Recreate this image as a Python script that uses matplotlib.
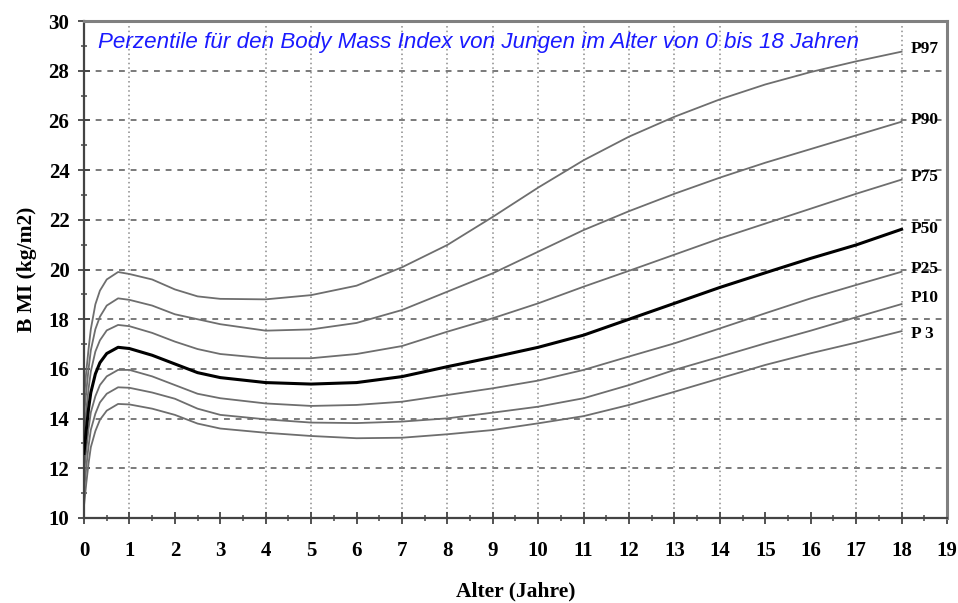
import matplotlib
matplotlib.use("Agg")
import matplotlib.pyplot as plt
from matplotlib.ticker import MultipleLocator

# Alter in Jahren und BMI-Perzentile (Jungen)
alter = [0, 0.05, 0.1, 0.15, 0.25, 0.35, 0.5, 0.75, 1, 1.5, 2, 2.5, 3, 4, 5,
         6, 7, 8, 9, 10, 11, 12, 13, 14, 15, 16, 17, 18]

p97 = [14.8, 15.9, 16.8, 17.6, 18.6, 19.15, 19.6, 19.9, 19.82, 19.6, 19.2,
       18.92, 18.82, 18.8, 18.97, 19.35, 20.09, 20.99, 22.12, 23.3, 24.4,
       25.35, 26.15, 26.85, 27.45, 27.95, 28.38, 28.77]
p90 = [14.1, 15.1, 16.0, 16.75, 17.6, 18.1, 18.55, 18.84, 18.78, 18.55, 18.2,
       18.0, 17.8, 17.54, 17.59, 17.85, 18.37, 19.11, 19.85, 20.72, 21.59,
       22.35, 23.05, 23.7, 24.3, 24.85, 25.4, 25.95]
p75 = [13.4, 14.35, 15.2, 15.9, 16.7, 17.15, 17.55, 17.77, 17.72, 17.45, 17.1,
       16.8, 16.6, 16.43, 16.43, 16.6, 16.92, 17.5, 18.04, 18.64, 19.31,
       19.95, 20.6, 21.25, 21.85, 22.45, 23.05, 23.62]
p50 = [12.6, 13.55, 14.4, 15.05, 15.8, 16.25, 16.62, 16.87, 16.82, 16.55, 16.2,
       15.85, 15.65, 15.45, 15.39, 15.45, 15.69, 16.09, 16.47, 16.87, 17.36,
       18.0, 18.64, 19.28, 19.87, 20.45, 20.99, 21.62]
p25 = [11.8, 12.75, 13.6, 14.25, 14.9, 15.35, 15.7, 15.96, 15.96, 15.7, 15.35,
       15.0, 14.82, 14.61, 14.51, 14.55, 14.68, 14.95, 15.22, 15.53, 15.96,
       16.5, 17.03, 17.63, 18.24, 18.84, 19.38, 19.91]
p10 = [11.1, 12.05, 12.9, 13.55, 14.2, 14.65, 15.0, 15.26, 15.24, 15.05, 14.8,
       14.4, 14.15, 13.97, 13.84, 13.82, 13.88, 14.01, 14.24, 14.48, 14.82,
       15.35, 15.96, 16.49, 17.03, 17.54, 18.08, 18.61]
p3 = [10.5, 11.4, 12.2, 12.85, 13.5, 13.95, 14.32, 14.59, 14.57, 14.4, 14.15,
      13.8, 13.6, 13.43, 13.30, 13.21, 13.23, 13.37, 13.54, 13.81, 14.10,
      14.55, 15.08, 15.62, 16.16, 16.63, 17.06, 17.52]

kurven = [("P97", p97), ("P90", p90), ("P75", p75), ("P50", p50),
          ("P25", p25), ("P10", p10), ("P 3", p3)]

# senkrechte Gitterlinien, wie in der Vorlage nur bei diesen Jahren
gitter_x = [1, 4, 5, 7, 8, 9, 10, 11, 12, 13, 14, 17, 18]

titel = "Perzentile für den Body Mass Index von Jungen im Alter von 0 bis 18 Jahren"

# kleine Verschiebung der Beschriftungen am rechten Ende
label_versatz = {"P97": 0.1, "P90": 0.05, "P75": 0.1, "P50": 0.0,
                 "P25": 0.1, "P10": 0.25, "P 3": -0.1}

serif = ["Liberation Serif", "DejaVu Serif"]

fig = plt.figure(figsize=(9.58, 6.03), dpi=100)
ax = fig.add_axes([0.0877, 0.141, 0.9008, 0.824])

ax.set_xlim(0, 19)
ax.set_ylim(10, 30)

for y in range(12, 30, 2):
    ax.axhline(y, color="#7a7a7a", linestyle=(0, (3, 3)), linewidth=1.4, zorder=1)
for x in gitter_x:
    ax.axvline(x, color="#8a8a8a", linestyle=(0, (1, 2)), linewidth=1.1, zorder=1)

for name, werte in kurven:
    if name == "P50":
        ax.plot(alter, werte, color="black", linewidth=2.2, zorder=3)
    else:
        ax.plot(alter, werte, color="#6e6e6e", linewidth=1.3, zorder=2)
    ax.text(alter[-1] + 0.2, werte[-1] + label_versatz[name], name,
            fontsize=12.5, fontweight="bold", family=serif, va="center", ha="left")

ax.text(0.3, 29.15, titel, color="#1a1aff", fontsize=16.1, style="italic",
        family=["Liberation Sans", "DejaVu Sans"], va="center", ha="left")

ax.xaxis.set_major_locator(MultipleLocator(1))
ax.xaxis.set_minor_locator(MultipleLocator(0.5))
ax.yaxis.set_major_locator(MultipleLocator(2))
ax.yaxis.set_minor_locator(MultipleLocator(1))
ax.tick_params(which="major", direction="inout", length=9, width=1.3,
               color="#444444", labelsize=15, pad=6)
ax.tick_params(which="minor", direction="inout", length=5, width=1.1,
               color="#444444")
ax.tick_params(axis="x", pad=12)

for lab in ax.get_xticklabels() + ax.get_yticklabels():
    lab.set_fontweight("bold")
    lab.set_family(serif)

for seite in ["left", "bottom"]:
    ax.spines[seite].set_color("#444444")
    ax.spines[seite].set_linewidth(1.6)
for seite in ["top", "right"]:
    ax.spines[seite].set_color("#808080")
    ax.spines[seite].set_linewidth(2.2)

ax.set_xlabel("Alter (Jahre)", fontsize=15.5, fontweight="bold", family=serif,
              labelpad=15)
ax.set_ylabel("B MI (kg/m2)", fontsize=15.5, fontweight="bold", family=serif,
              labelpad=8)

fig.savefig("out.png", dpi=100, facecolor="white")
